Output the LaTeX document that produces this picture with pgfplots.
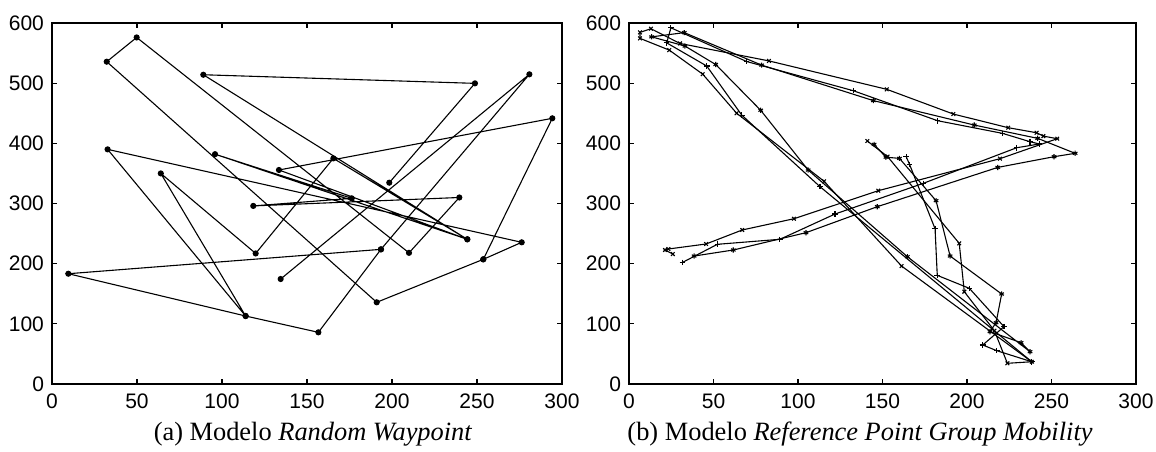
\documentclass[border=0pt]{standalone}
\usepackage{fontspec}
\setmainfont{Liberation Serif}
\newfontfamily\ticksans{Liberation Sans}
\usepackage{pgfplots}
\pgfplotsset{compat=1.18}

\pgfplotsset{
  mob/.style={
    scale only axis, height=180.5pt,
    xmin=0, xmax=300, ymin=0, ymax=600,
    xtick={0,50,...,300}, ytick={0,100,...,600},
    tick align=inside, major tick length=2.5pt,
    axis line style={line width=0.8pt}, every tick/.style={black, line width=0.6pt},
    tick label style={font=\ticksans\fontsize{10.5}{12}\selectfont},
    /pgf/number format/assume math mode=true,
    xticklabel style={yshift=-1.5pt}, yticklabel style={xshift=-0.5pt},
  },
  trk/.style={black, line width=0.55pt},
}

\begin{document}
\begin{tikzpicture}
\useasboundingbox (-26pt,-33.5pt) rectangle (552pt,192pt);

% (a) random waypoint
\begin{axis}[mob, width=255pt, at={(0pt,0pt)}, anchor=south west]
\addplot[trk, mark=*, mark size=1.25pt] coordinates {
 (198.4,334.6) (248.8,499.7) (89,514) (244.3,240.5) (165.5,375) (119.8,217)
 (64,350) (113.9,113) (32.7,390) (276.3,235.5) (253.7,207.2) (191,135.8)
 (32.2,535.7) (49.8,576) (210,218) (239.6,310) (118.4,296) (176.3,308.6)
 (95.9,382) (244.3,240.5) (133.5,355.7) (294.3,441.6) (253.7,207.2)
};
\addplot[trk, mark=*, mark size=1.25pt] coordinates {
 (134.5,174.5) (280.8,514.7) (193.5,223.8) (9.6,183.3) (113.9,113)
 (156.7,85.9) (193.5,223.8)
};
\end{axis}

% (b) reference point group mobility
\begin{axis}[mob, width=253.5pt, at={(288.5pt,0pt)}, anchor=south west]
% node x
\addplot[trk, mark=x, mark size=1.3pt] coordinates {
 (141,403.9) (153,378) (195.4,233.8) (198.4,153.4) (216.2,88.6) (223.9,34.4)
 (238.3,37) (161.3,196) (115.4,337) (63.7,450) (43.6,515) (23.8,555)
 (6.5,574.5) (6.5,584.5) (13,590.5) (30.2,566) (82.8,537) (152.5,489.8)
 (191.9,448.7) (224.4,426) (241.2,417.6) (245.2,412) (253.4,407.7)
 (219.5,374.5) (147.5,321.3) (97.6,274.7) (67,256) (45.6,232.7)
 (23.3,224.4) (21.3,222.7) (25.9,216)
};
% node +
\addplot[trk, mark=+, mark size=1.4pt] coordinates {
 (164,378) (166,365) (181.1,258) (182.4,180.6) (201.4,159) (221.9,95.3)
 (209.3,64.8) (217.6,55.4) (238.3,37) (113,328) (66.7,447) (46,528.5)
 (22.3,567) (24.8,592) (69.6,536) (132.7,487.5) (182.6,437.6) (221,416.6)
 (237.3,402.7) (242.8,398.9) (229.4,392.7) (174.1,333.5) (121.9,282.5)
 (89.3,240.5) (52.3,232.2) (31.6,202)
};
% node *
\addplot[trk, mark=asterisk, mark size=1.3pt] coordinates {
 (145,398.3) (152,377) (160,375) (181.7,304.7) (190,212.7) (220.5,149.6)
 (217.2,101.9) (213.6,87) (232,68.7) (237.3,53.7) (164.7,211.6) (106,355.6)
 (77.9,455) (51.3,531) (33.1,561.7) (13.4,577) (32.7,584) (78.5,530)
 (144.6,471) (204.3,430.4) (241.8,408.3) (264,383.4) (251.5,377.8)
 (218.2,360) (146.9,294.7) (104.7,251.5) (61.7,222.7) (38.5,212.7)
};
\end{axis}

\node[font=\fontsize{13.2}{15}\selectfont] at (130.5pt,-25pt) {(a) Modelo \textit{Random Waypoint}};
\node[font=\fontsize{13.2}{15}\selectfont] at (404pt,-25pt) {(b) Modelo \textit{Reference Point Group Mobility}};
\end{tikzpicture}
\end{document}
